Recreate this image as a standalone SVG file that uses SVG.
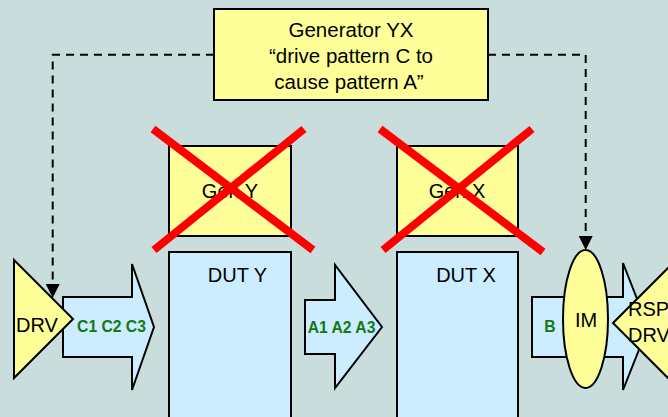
<svg xmlns="http://www.w3.org/2000/svg" width="668" height="417" viewBox="0 0 668 417">
<defs>
<style>
.bg{fill:#C9DDDD}
.yel{fill:#FFFF99;stroke:#000;stroke-width:2}
.blu{fill:#CCECFF;stroke:#000;stroke-width:2}
.t{font-family:"Liberation Sans",Arial,sans-serif;font-size:20px;fill:#000;text-anchor:middle}
.g{font-family:"Liberation Sans",Arial,sans-serif;font-size:15.7px;font-weight:bold;fill:#147814;text-anchor:middle}
.dash{fill:none;stroke:#000;stroke-width:2;stroke-dasharray:8 6}
.cross{stroke:#FF0000;stroke-width:8;stroke-linecap:butt}
</style>
<marker id="ah" viewBox="0 0 10 10" refX="10" refY="5" markerWidth="14" markerHeight="14" markerUnits="userSpaceOnUse" orient="auto">
<path d="M0,0 L10,5 L0,10 Z" fill="#000"/>
</marker>
</defs>
<rect class="bg" x="0" y="0" width="668" height="417"/>

<g id="connectors">
<polyline class="dash" points="214,54.7 52.7,54.7 52.7,298" marker-end="url(#ah)"/>
<polyline class="dash" points="488,54.7 585.7,54.7 585.7,250" marker-end="url(#ah)"/>
</g>

<g id="generator-yx">
<rect class="yel" x="214" y="9" width="274" height="91"/>
<text class="t" x="351" y="37" style="font-size:20.5px">Generator YX</text>
<text class="t" x="351" y="63" style="font-size:20.5px">“drive pattern C to</text>
<text class="t" x="349" y="89" style="font-size:20.5px">cause pattern A”</text>
</g>

<g id="gen-y">
<rect class="yel" x="169" y="146" width="122" height="90"/>
<text class="t" x="230" y="198">Gen Y</text>
<line class="cross" x1="153" y1="129" x2="313" y2="250"/>
<line class="cross" x1="304" y1="129" x2="154" y2="250"/>
</g>

<g id="gen-x">
<rect class="yel" x="397" y="146" width="121" height="90"/>
<text class="t" x="457" y="198">Gen X</text>
<line class="cross" x1="380" y1="129" x2="543" y2="252"/>
<line class="cross" x1="532" y1="129" x2="383" y2="250"/>
</g>

<g id="arrow-c">
<polygon class="blu" points="63,297 132,297 132,264 154,327 132,390 132,357 63,357"/>
<text class="g" x="111.5" y="332">C1 C2 C3</text>
</g>

<g id="drv">
<polygon class="yel" points="14,260 73,319 14,378"/>
<text class="t" x="37" y="332">DRV</text>
</g>

<g id="dut-y">
<rect class="blu" x="169" y="252" width="122" height="175"/>
<text class="t" x="237.5" y="282">DUT Y</text>
</g>

<g id="arrow-a">
<polygon class="blu" points="305,300 335,300 335,265 382,327 335,388 335,354 305,354"/>
<text class="g" x="341.5" y="333">A1 A2 A3</text>
</g>

<g id="dut-x">
<rect class="blu" x="397" y="252" width="121" height="175"/>
<text class="t" x="466" y="282">DUT X</text>
</g>

<g id="arrow-b">
<polygon class="blu" points="532,297 623,297 623,263 648,327 623,390 623,357 532,357"/>
<text class="g" x="550" y="332">B</text>
</g>

<g id="im">
<ellipse class="yel" cx="585.5" cy="319" rx="22.5" ry="69"/>
<text class="t" x="586" y="327">IM</text>
</g>

<g id="rsp-drv">
<polygon class="yel" points="613,323 672,264 672,382"/>
<text class="t" x="628" y="316" style="text-anchor:start">RSP</text>
<text class="t" x="628" y="342" style="text-anchor:start">DRV</text>
</g>
</svg>
